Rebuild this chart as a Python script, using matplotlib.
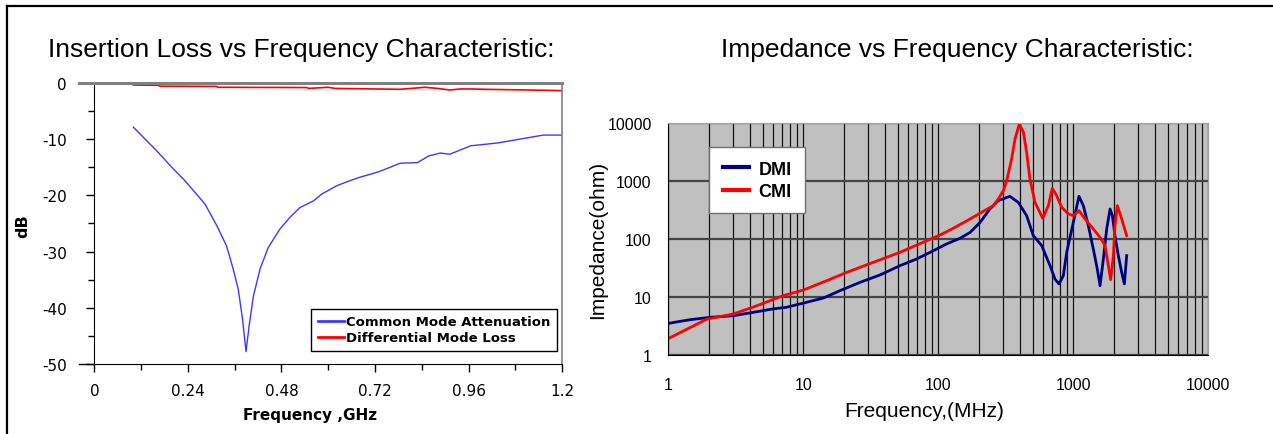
import matplotlib.pyplot as plt
from matplotlib.lines import Line2D
from matplotlib.ticker import NullFormatter, LogLocator

plt.rcParams['axes.unicode_minus'] = False

# Insertion loss (GHz, dB)
cm_freq = [0.1, 0.164, 0.194, 0.232, 0.262, 0.284, 0.314, 0.339, 0.356, 0.369, 0.380, 0.389,
           0.397, 0.408, 0.425, 0.446, 0.476, 0.502, 0.527, 0.562, 0.583, 0.622, 0.656, 0.681,
           0.726, 0.76, 0.784, 0.829, 0.858, 0.888, 0.912, 0.966, 1.035, 1.093, 1.152, 1.2]
cm_db = [-7.9, -12.4, -14.7, -17.4, -19.8, -21.6, -25.4, -29.0, -33.1, -36.7, -42.0, -47.8,
         -43.2, -37.9, -33.1, -29.3, -26.0, -23.9, -22.2, -21.0, -19.8, -18.3, -17.4, -16.8,
         -15.9, -15.0, -14.3, -14.2, -13.0, -12.5, -12.7, -11.2, -10.7, -10.0, -9.3, -9.3]
dm_freq = [0.1, 0.164, 0.168, 0.314, 0.316, 0.545, 0.55, 0.6, 0.617, 0.784, 0.848, 0.88,
           0.912, 0.94, 0.97, 1.0, 1.13, 1.2]
dm_db = [-0.4, -0.45, -0.6, -0.65, -0.8, -0.85, -1.0, -0.8, -1.0, -1.16, -0.8, -1.0,
         -1.28, -1.1, -1.1, -1.16, -1.3, -1.4]

# Impedance (MHz, ohm)
dmi_freq = [1, 1.45, 2.04, 3.03, 4.26, 6.0, 7.5, 10, 14.1, 18.7, 26.3, 37, 52, 69, 87, 115,
            145, 172, 204, 241, 278, 338, 391, 451, 505, 583, 672, 731, 783, 843, 893, 1000,
            1101, 1186, 1292, 1406, 1506, 1577, 1669, 1767, 1871, 1946, 2035, 2155, 2281,
            2388, 2484]
dmi_ohm = [3.48, 4.03, 4.42, 4.72, 5.4, 6.2, 6.6, 7.8, 9.55, 12.8, 17.8, 23.9, 34.6, 45.1,
           58.8, 82, 103, 130, 194, 330, 460, 547, 430, 253, 114, 77, 34.6, 20.3, 16.7, 23.2,
           58.8, 194, 547, 377, 170, 67, 30, 15.6, 45, 149, 330, 253, 114, 51.5, 26.5, 16.7,
           51.5]
cmi_freq = [1, 1.92, 3.03, 4.51, 7.1, 10, 14.9, 21, 33, 52, 77, 103, 129, 172, 255, 278, 303,
            321, 349, 370, 398, 427, 451, 477, 520, 593, 653, 699, 752, 820, 919, 1000, 1101,
            1220, 1406, 1577, 1718, 1817, 1891, 1979, 2035, 2119, 2281, 2484]
cmi_ohm = [1.9, 4.1, 5.05, 7.0, 10.5, 13.1, 19, 26.5, 39.5, 58.8, 87.5, 117, 153, 222, 377,
           490, 685, 1020, 2417, 5360, 9730, 6980, 3150, 1090, 430, 228, 377, 752, 561, 353,
           271, 253, 309, 222, 149, 107, 77, 34.6, 19.8, 51.5, 170, 377, 222, 114]

fig = plt.figure(figsize=(12.73, 4.35), dpi=100)

# outer frame
fig.add_artist(Line2D([7 / 1273, 1], [1 - 6.5 / 435, 1 - 6.5 / 435], color='black', lw=1.6))
fig.add_artist(Line2D([7 / 1273, 7 / 1273], [0, 1 - 6.5 / 435], color='black', lw=1.6))

# ---------- left chart ----------
ax1 = fig.add_axes([0.0742, 0.1609, 0.3673, 0.6465])
ax1.plot(cm_freq, cm_db, color='#3a3aff', lw=1, label='Common Mode Attenuation')
ax1.plot(dm_freq, dm_db, color='#ff0000', lw=1.2, label='Differential Mode Loss')
ax1.set_xlim(0, 1.2)
ax1.set_ylim(-50, 0)
ax1.set_xticks([0, 0.24, 0.48, 0.72, 0.96, 1.2], labels=['0', '0.24', '0.48', '0.72', '0.96', '1.2'])
ax1.set_xticks([0.12, 0.36, 0.6, 0.84, 1.08], minor=True)
ax1.set_yticks([0, -10, -20, -30, -40, -50], labels=['0', '-10', '-20', '-30', '-40', '-50'])
ax1.set_yticks([-5, -15, -25, -35, -45], minor=True)
ax1.tick_params(axis='both', which='major', length=6, width=1, labelsize=11)
ax1.tick_params(axis='both', which='minor', length=4, width=1)
ax1.tick_params(axis='y', which='major', pad=14)
ax1.tick_params(axis='x', which='major', pad=8)
ax1.spines['top'].set_color('#808080')
ax1.spines['top'].set_linewidth(2.2)
ax1.spines['right'].set_color('#808080')
ax1.spines['right'].set_linewidth(1.2)
for y, c, w in [(0, 'black', 1), (1, '#808080', 2.2)]:
    ax1.add_artist(Line2D([-0.033, 0], [y, y], transform=ax1.transAxes, clip_on=False, color=c, lw=w))
leg1 = ax1.legend(loc='lower right', bbox_to_anchor=(0.989, 0.046), borderaxespad=0, fancybox=False,
                  framealpha=1, edgecolor='black', handlelength=2.0, handletextpad=0.15,
                  borderpad=0.5, labelspacing=0.25, prop={'weight': 'bold', 'size': 9.5})
leg1.get_frame().set_linewidth(1)
for h in leg1.get_lines():
    h.set_linewidth(2)
fig.text(310 / 1273, 1 - 416 / 435, 'Frequency ,GHz', ha='center', va='center', fontsize=11,
         fontweight='bold')
fig.text(23 / 1273, 1 - 226 / 435, 'dB', ha='center', va='center', fontsize=11.5, fontweight='bold',
         rotation=90)
fig.text(301 / 1273, 1 - 50 / 435, 'Insertion Loss vs Frequency Characteristic:', ha='center',
         va='center', fontsize=19, family='Liberation Sans')

# ---------- right chart ----------
ax2 = fig.add_axes([0.525, 0.1823, 0.4242, 0.532])
ax2.set_facecolor('#c0c0c0')
ax2.plot(dmi_freq, dmi_ohm, color='#000080', lw=2, label='DMI')
ax2.plot(cmi_freq, cmi_ohm, color='#ff0000', lw=2, label='CMI')
ax2.set_xscale('log')
ax2.set_yscale('log')
ax2.set_xlim(1, 10000)
ax2.set_ylim(1, 10000)
ax2.xaxis.set_minor_locator(LogLocator(base=10, subs=range(2, 10)))
ax2.xaxis.set_minor_formatter(NullFormatter())
ax2.yaxis.set_minor_formatter(NullFormatter())
ax2.set_xticks([1, 10, 100, 1000, 10000], labels=['1', '10', '100', '1000', '10000'])
ax2.set_yticks([1, 10, 100, 1000, 10000], labels=['1', '10', '100', '1000', '10000'])
ax2.tick_params(axis='both', which='both', length=0, labelsize=11.4)
ax2.tick_params(axis='x', pad=16)
ax2.tick_params(axis='y', pad=12)
for lab in ax2.get_xticklabels() + ax2.get_yticklabels():
    lab.set_family('Liberation Sans')
ax2.grid(which='both', axis='x', color='#111111', lw=0.9)
ax2.grid(which='major', axis='y', color='#444444', lw=1.6)
ax2.spines['top'].set_color('#a0a0a0')
ax2.spines['right'].set_color('#a0a0a0')
leg2 = ax2.legend(loc='upper left', bbox_to_anchor=(0.0754, 0.8976), borderaxespad=0,
                  fancybox=False, framealpha=1, edgecolor='#707070', handlelength=1.45,
                  handletextpad=0.55, borderpad=0.75, labelspacing=0.3,
                  prop={'weight': 'bold', 'size': 13, 'family': 'Liberation Sans'})
for h in leg2.get_lines():
    h.set_linewidth(3)
fig.text(924 / 1273, 1 - 412 / 435, 'Frequency,(MHz)', ha='center', va='center', fontsize=15,
         family='Liberation Sans')
fig.text(598 / 1273, 1 - 240 / 435, 'Impedance(ohm)', ha='center', va='center', fontsize=15,
         family='Liberation Sans', rotation=90)
fig.text(957 / 1273, 1 - 50 / 435, 'Impedance vs Frequency Characteristic:', ha='center',
         va='center', fontsize=19, family='Liberation Sans')

plt.savefig('out.png', dpi=100)
